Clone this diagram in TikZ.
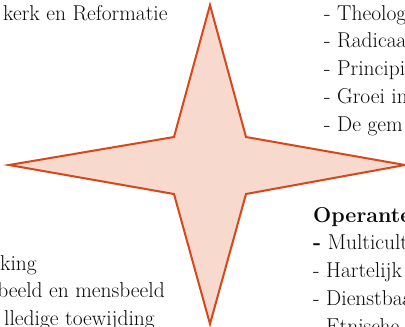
\documentclass[tikz,border=0pt]{standalone}
\definecolor{starfill}{RGB}{248,217,206}
\definecolor{starline}{RGB}{214,72,26}
\definecolor{txt}{RGB}{10,10,10}
\begin{document}
\begin{tikzpicture}[x=1pt,y=-1pt,
  lbl/.style={anchor=base west,inner sep=0pt,text=txt,font=\fontsize{21.5}{24}\selectfont},
  lblr/.style={anchor=base east,inner sep=0pt,text=txt,font=\fontsize{21.5}{24}\selectfont}]
\useasboundingbox (0,0) rectangle (405,327);
\clip (0,0) rectangle (405,327);
\coordinate (t) at (210,5);
\coordinate (tr) at (246,137);
\coordinate (r) at (405,165);
\coordinate (br) at (246,194);
\coordinate (b) at (210,324);
\coordinate (bl) at (174,194);
\coordinate (l) at (9,165);
\coordinate (tl) at (174,137);
\draw[starline,fill=starfill,line width=2pt,line join=miter]
  (t) -- (tr) -- (r) -- (br) -- (b) -- (bl) -- (l) -- (tl) -- cycle;
\node[lbl] (kerk) at (3,20) {kerk en Reformatie};
\node[lbl] (r1) at (324,20) {- Theolog};
\node[lbl] (r2) at (324,47) {- Radicaa};
\node[lbl] (r3) at (324,75) {- Principi};
\node[lbl] (r4) at (324,103) {- Groei in};
\node[lbl] (r5) at (324,131) {- De gem};
\node[lbl] (o0) at (313,222) {\bfseries Operante};
\node[lbl] (o1) at (313,249) {{\bfseries -} Multicult};
\node[lbl] (o2) at (313,277) {- Hartelijk};
\node[lbl] (o3) at (313,305) {- Dienstbaa};
\node[lbl] (o4) at (313,333) {- Etnische};
\node[lblr] (l1) at (37,270) {king};
\node[lblr] (l2) at (165,297) {beeld en mensbeeld};
\node[lblr] (l3) at (155,325) {lledige toewijding};
\end{tikzpicture}
\end{document}
